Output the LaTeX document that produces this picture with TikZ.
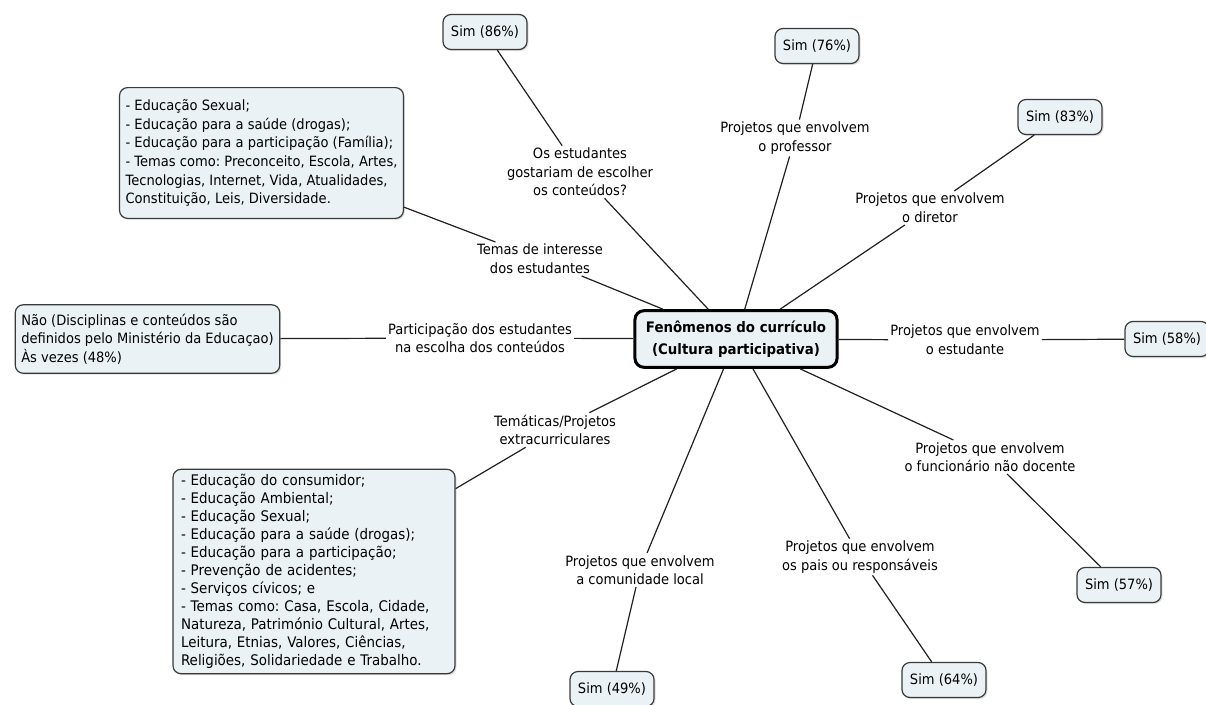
\documentclass[tikz,border=0pt]{standalone}
\usepackage{fontspec}
\setmainfont{DejaVu Sans}[FakeStretch=0.92]
\usetikzlibrary{shadows}
\frenchspacing
\definecolor{boxfill}{HTML}{EAF2F5}
\definecolor{boxline}{HTML}{3A3A3A}
\definecolor{linkc}{HTML}{202020}
\tikzset{
  txt/.style={font=\fontsize{14.2}{18.6}\selectfont\frenchspacing},
  box/.style={txt, draw=boxline, fill=boxfill, rounded corners=8pt, line width=1.2pt,
    inner xsep=6pt, inner ysep=9pt,
    drop shadow={shadow xshift=1.5pt, shadow yshift=-1.5pt, opacity=0.25}},
  simbox/.style={box, inner xsep=8pt, minimum height=35pt},
  lab/.style={txt, align=center, inner sep=2pt},
  core/.style={draw=black, fill=boxfill, rounded corners=9pt, line width=3pt,
    inner xsep=11pt, inner ysep=10pt, align=center,
    font=\fontsize{14.5}{22}\selectfont\bfseries},
  link/.style={draw=linkc, line width=1.2pt}
}
\begin{document}
\begin{tikzpicture}[x=1pt,y=-1pt]
\useasboundingbox (0,0) rectangle (1206,704);
% central
\node[core] (c) at (736,339) {Fenômenos do currículo\\(Cultura participativa)};
% labels
\node[lab] (l1) at (580,172) {Os estudantes\\gostariam de escolher\\os conteúdos?};
\node[lab] (l2) at (795,138) {Projetos que envolvem\\o professor};
\node[lab] (l3) at (930,208) {Projetos que envolvem\\o diretor};
\node[lab] (l4) at (540,259) {Temas de interesse\\dos estudantes};
\node[lab] (l5) at (480,338) {Participação dos estudantes\\na escolha dos conteúdos};
\node[lab] (l6) at (965,340) {Projetos que envolvem\\o estudante};
\node[lab] (l7) at (555,430) {Temáticas/Projetos\\extracurriculares};
\node[lab] (l8) at (990,457) {Projetos que envolvem\\o funcionário não docente};
\node[lab] (l9) at (640,570) {Projetos que envolvem\\a comunidade local};
\node[lab] (l10) at (860,557) {Projetos que envolvem\\os pais ou responsáveis};
% boxes
\node[simbox] (b1) at (485,32) {Sim (86\%)};
\node[simbox] (b2) at (817,46) {Sim (76\%)};
\node[simbox] (b3) at (1060,117) {Sim (83\%)};
\node[box, align=left, inner ysep=12pt] (b4) at (261.5,153) {- Educação Sexual;\\- Educação para a saúde (drogas);\\- Educação para a participação (Família);\\- Temas como: Preconceito, Escola, Artes,\\Tecnologias, Internet, Vida, Atualidades,\\Constituição, Leis, Diversidade.};
\node[box, align=left] (b5) at (147.5,339) {Não (Disciplinas e conteúdos são\\definidos pelo Ministério da Educaçao)\\Às vezes (48\%)};
\node[simbox] (b6) at (1167,339) {Sim (58\%)};
\node[box, align=left, inner xsep=8pt, inner ysep=5pt, text width=266pt, font=\fontsize{14.6}{18}\selectfont\frenchspacing] (b7) at (314,571.5) {- Educação do consumidor;\\- Educação Ambiental;\\- Educação Sexual;\\- Educação para a saúde (drogas);\\- Educação para a participação;\\- Prevenção de acidentes;\\- Serviços cívicos; e\\- Temas como: Casa, Escola, Cidade,\\Natureza, Património Cultural, Artes,\\Leitura, Etnias, Valores, Ciências,\\Religiões, Solidariedade e Trabalho.};
\node[simbox] (b8) at (1119,585) {Sim (57\%)};
\node[simbox] (b9) at (612,689) {Sim (49\%)};
\node[simbox] (b10) at (944,680) {Sim (64\%)};
% links
\draw[link] (c) -- (l1);
\draw[link] (l1) -- (b1);
\draw[link] (c) -- (l2);
\draw[link] (l2) -- (b2);
\draw[link] (c) -- (l3);
\draw[link] (l3) -- (b3);
\draw[link] (c) -- (l4);
\draw[link] (l4) -- (b4);
\draw[link] (c) -- (l5);
\draw[link] (l5) -- (b5);
\draw[link] (c) -- (l6);
\draw[link] (l6) -- (b6);
\draw[link] (c) -- (l7);
\draw[link] (l7) -- (b7);
\draw[link] (c) -- (l8);
\draw[link] (l8) -- (b8);
\draw[link] (c) -- (l9);
\draw[link] (l9) -- (b9);
\draw[link] (c) -- (l10);
\draw[link] (l10) -- (b10);
\end{tikzpicture}
\end{document}
